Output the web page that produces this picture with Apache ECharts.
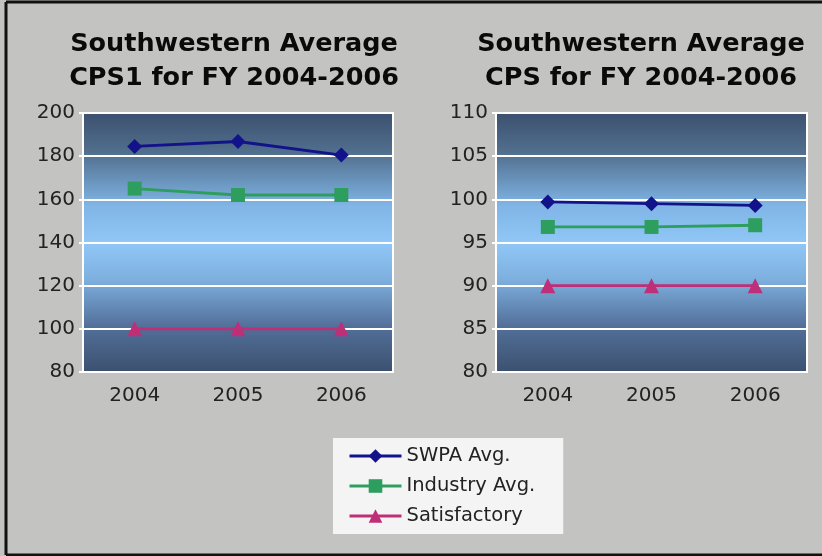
<!DOCTYPE html>
<html>
<head>
<meta charset="utf-8">
<script src="https://cdn.jsdelivr.net/npm/echarts@6/dist/echarts.min.js"></script>
<style>
  html, body { margin: 0; padding: 0; background: #c3c3c1; }
  #chart_container { width: 822px; height: 556px; }
</style>
</head>
<body>
<div id="chart_container"></div>
<script>
var years = ["2004", "2005", "2006"];
var seriesNames = ["SWPA Avg.", "Industry Avg.", "Satisfactory"];

// left panel: CPS1
var cps1Swpa = [184.5, 186.8, 180.5];
var cps1Industry = [165, 162, 162];
var cps1Satisfactory = [100, 100, 100];

// right panel: CPS
var cpsSwpa = [99.7, 99.5, 99.3];
var cpsIndustry = [96.8, 96.8, 97.0];
var cpsSatisfactory = [90, 90, 90];

var colors = ["#12128a", "#2e9e5e", "#bf2f78"];
var symbols = ["diamond", "rect", "triangle"];
var symbolSizes = [15, 14, 15];

var dom = document.getElementById("chart_container");
var myChart = echarts.init(dom, null, { renderer: "canvas" });

var plotBg = new echarts.graphic.LinearGradient(0, 0, 0, 1, [
  { offset: 0, color: "#3b506e" },
  { offset: 0.16, color: "#52708f" },
  { offset: 0.36, color: "#80b5e6" },
  { offset: 0.5, color: "#90c7f7" },
  { offset: 0.64, color: "#7eb0df" },
  { offset: 0.82, color: "#53709a" },
  { offset: 1, color: "#3b506e" },
]);

var font = "DejaVu Sans";

function yAxis(idx, min, max, interval) {
  return {
    type: "value",
    gridIndex: idx,
    min: min,
    max: max,
    interval: interval,
    axisLine: { show: false },
    axisTick: { show: true, length: 4, lineStyle: { color: "#ffffff", width: 2 } },
    axisLabel: { color: "#222", fontSize: 20, fontFamily: font, margin: 8 },
    splitLine: { lineStyle: { color: "#ffffff", width: 2 } },
  };
}

function xAxis(idx) {
  return {
    type: "category",
    gridIndex: idx,
    data: years,
    axisLine: { lineStyle: { color: "#ffffff", width: 2 } },
    axisTick: { inside: true, length: 10, lineStyle: { color: "#ffffff", width: 2 } },
    axisLabel: { color: "#222", fontSize: 20, fontFamily: font, margin: 14 },
  };
}

function makeSeries(idx, values, k) {
  return {
    name: seriesNames[k],
    type: "line",
    xAxisIndex: idx,
    yAxisIndex: idx,
    data: values,
    symbol: symbols[k],
    symbolSize: symbolSizes[k],
    itemStyle: { color: colors[k] },
    lineStyle: { color: colors[k], width: 2.8 },
    z: 3,
  };
}

var titleStyle = { color: "#0a0a0a", fontSize: 25.5, fontWeight: "bold", fontFamily: font, lineHeight: 34, align: "center" };

var frameStyle = { stroke: "#111", lineWidth: 3 };

var option = {
  backgroundColor: "#c3c3c1",
  animation: false,
  graphic: [
    { type: "line", shape: { x1: 6, y1: 2, x2: 822, y2: 2 }, style: frameStyle, z: 100 },
    { type: "line", shape: { x1: 6, y1: 2, x2: 6, y2: 555 }, style: frameStyle, z: 100 },
    { type: "line", shape: { x1: 6, y1: 555, x2: 822, y2: 555 }, style: frameStyle, z: 100 },
  ],
  title: [
    {
      text: "Southwestern Average\nCPS1 for FY 2004-2006",
      left: 229,
      top: 22,
      textAlign: "center",
      textStyle: titleStyle,
    },
    {
      text: "Southwestern Average\nCPS for FY 2004-2006",
      left: 636,
      top: 22,
      textAlign: "center",
      textStyle: titleStyle,
    },
  ],
  legend: {
    orient: "vertical",
    left: 333,
    top: 438,
    padding: [8, 28, 8, 15],
    backgroundColor: "#f4f4f4",
    itemWidth: 52,
    itemHeight: 17,
    itemGap: 10,
    data: seriesNames,
    lineStyle: { width: 3 },
    textStyle: { color: "#222", fontSize: 19.5, fontFamily: font },
  },
  grid: [
    {
      left: 83, top: 113, width: 310, height: 259,
      show: true, backgroundColor: plotBg, borderColor: "#ffffff", borderWidth: 2,
    },
    {
      left: 496, top: 113, width: 311, height: 259,
      show: true, backgroundColor: plotBg, borderColor: "#ffffff", borderWidth: 2,
    },
  ],
  xAxis: [xAxis(0), xAxis(1)],
  yAxis: [yAxis(0, 80, 200, 20), yAxis(1, 80, 110, 5)],
  series: [
    makeSeries(0, cps1Swpa, 0),
    makeSeries(0, cps1Industry, 1),
    makeSeries(0, cps1Satisfactory, 2),
    makeSeries(1, cpsSwpa, 0),
    makeSeries(1, cpsIndustry, 1),
    makeSeries(1, cpsSatisfactory, 2),
  ],
};

myChart.setOption(option);
window.addEventListener("resize", myChart.resize);
</script>
</body>
</html>
